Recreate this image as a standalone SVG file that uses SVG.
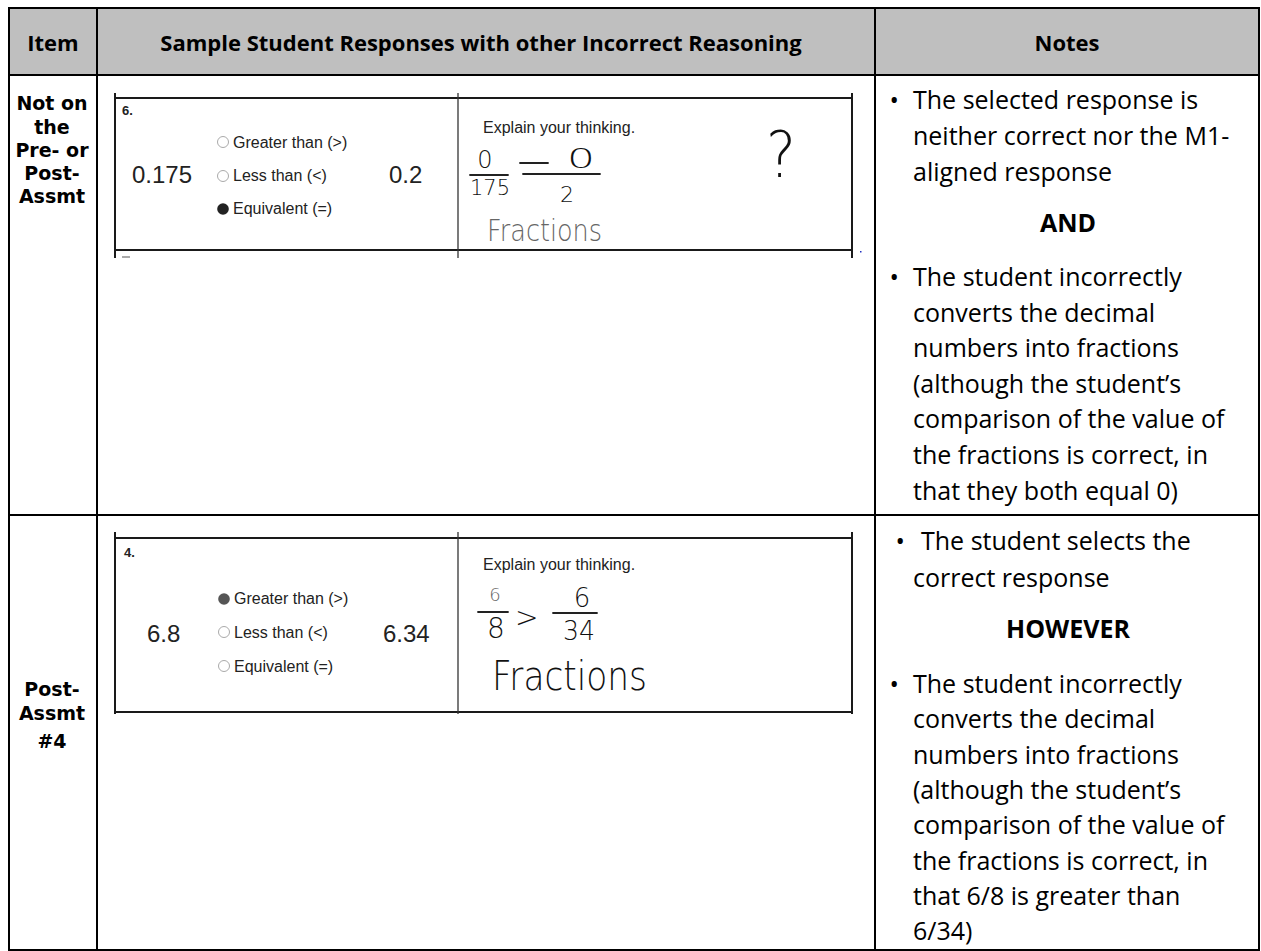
<svg xmlns="http://www.w3.org/2000/svg" width="1261" height="951" viewBox="0 0 1261 951">
<style>
.grid{stroke:#000;stroke-width:2;fill:none}
.hd{font-family:"Open Sans","Liberation Sans",sans-serif;font-weight:bold;font-size:22px;fill:#000;text-anchor:middle}
.it{font-family:"DejaVu Sans","Liberation Sans",sans-serif;font-weight:bold;font-size:19px;fill:#000;text-anchor:middle}
.nt{font-family:"Open Sans","Liberation Sans",sans-serif;font-size:25px;fill:#000}
.ntb{font-family:"Open Sans","Liberation Sans",sans-serif;font-size:25px;font-weight:bold;fill:#000;text-anchor:middle}
.scan{stroke:#1a1a1a;stroke-width:2;fill:none}
.scanthin{stroke:#333;stroke-width:1.3;fill:none}
.opt{font-family:"Liberation Sans",Arial,sans-serif;font-size:16px;fill:#222}
.num{font-family:"Liberation Sans",Arial,sans-serif;font-size:24px;fill:#222}
.qn{font-family:"Liberation Sans",Arial,sans-serif;font-size:13px;font-weight:bold;fill:#222}
.radio{fill:#fff;stroke:#aaa;stroke-width:1}
.hand{font-family:"DejaVu Sans",sans-serif;font-weight:200;fill:#111}
.handl{font-family:"DejaVu Sans",sans-serif;font-weight:200;fill:#666}
.stroke{stroke:#222;stroke-width:1.8;fill:none;stroke-linecap:round}
</style>

<g id="table">
  <rect x="9" y="8" width="1250" height="67" fill="#bfbfbf"/>
  <rect x="9" y="8" width="1250" height="942" class="grid"/>
  <line x1="9" y1="75" x2="1259" y2="75" class="grid"/>
  <line x1="9" y1="515" x2="1259" y2="515" class="grid"/>
  <line x1="97" y1="8" x2="97" y2="950" class="grid"/>
  <line x1="875" y1="8" x2="875" y2="950" class="grid"/>
</g>

<g id="header">
  <text class="hd" x="53" y="51">Item</text>
  <text class="hd" x="481" y="51">Sample Student Responses with other Incorrect Reasoning</text>
  <text class="hd" x="1067" y="51">Notes</text>
</g>

<g id="item-row1">
  <text class="it" x="52" y="110">Not on</text>
  <text class="it" x="52" y="134">the</text>
  <text class="it" x="52" y="157">Pre- or</text>
  <text class="it" x="52" y="180">Post-</text>
  <text class="it" x="52" y="203">Assmt</text>
</g>

<g id="scan-row1">
  <line x1="115" y1="93" x2="115" y2="258" class="scan"/>
  <line x1="852" y1="93" x2="852" y2="258" class="scan"/>
  <line x1="115" y1="98" x2="852" y2="98" class="scan"/>
  <line x1="115" y1="250" x2="852" y2="250" class="scan"/>
  <line x1="458" y1="93" x2="458" y2="258" class="scanthin"/>
  <line x1="122" y1="257" x2="130" y2="257" stroke="#555" stroke-width="1"/>
  <rect x="860" y="251" width="1.5" height="1.5" fill="#2030c0"/>
  <text class="qn" x="122" y="115">6.</text>
  <circle class="radio" cx="223" cy="142" r="5.5"/>
  <circle class="radio" cx="223" cy="176" r="5.5"/>
  <circle cx="223" cy="209" r="5.8" fill="#222"/>
  <text class="opt" x="233" y="148">Greater than (&gt;)</text>
  <text class="opt" x="233" y="181">Less than (&lt;)</text>
  <text class="opt" x="233" y="214">Equivalent (=)</text>
  <text class="num" x="132" y="183">0.175</text>
  <text class="num" x="389" y="183">0.2</text>
  <text class="opt" x="483" y="133">Explain your thinking.</text>
  <text class="hand" x="485" y="168" font-size="24" text-anchor="middle">0</text>
  <line x1="470" y1="175" x2="508" y2="175" class="stroke"/>
  <text class="hand" x="470" y="195" font-size="22" textLength="40" lengthAdjust="spacingAndGlyphs">175</text>
  <line x1="520" y1="163" x2="548" y2="163" class="stroke"/>
  <line x1="523" y1="174" x2="600" y2="174" class="stroke"/>
  <text class="hand" x="567" y="168" font-size="27" textLength="28" lengthAdjust="spacingAndGlyphs">0</text>
  <text class="hand" x="560" y="202" font-size="22">2</text>
  <text class="handl" x="487" y="241" font-size="30" textLength="115" lengthAdjust="spacingAndGlyphs">Fractions</text>
  <text class="hand" x="766" y="177" font-size="64" font-weight="300" textLength="30" lengthAdjust="spacingAndGlyphs">?</text>
</g>

<g id="notes-row1">
  <text class="nt"><tspan x="889.5" y="109">•</tspan><tspan x="913" y="109">The selected response is</tspan></text>
  <text class="nt" x="913" y="145">neither correct nor the M1-</text>
  <text class="nt" x="913" y="181">aligned response</text>
  <text class="ntb" x="1068" y="232">AND</text>
  <text class="nt"><tspan x="889.5" y="286">•</tspan><tspan x="913" y="286">The student incorrectly</tspan></text>
  <text class="nt" x="913" y="321.6">converts the decimal</text>
  <text class="nt" x="913" y="357.2">numbers into fractions</text>
  <text class="nt" x="913" y="392.8">(although the student’s</text>
  <text class="nt" x="913" y="428.4">comparison of the value of</text>
  <text class="nt" x="913" y="464">the fractions is correct, in</text>
  <text class="nt" x="913" y="500">that they both equal 0)</text>
</g>

<g id="item-row2">
  <text class="it" x="52" y="696">Post-</text>
  <text class="it" x="52" y="720">Assmt</text>
  <text class="it" x="52" y="748">#4</text>
</g>

<g id="scan-row2">
  <line x1="115" y1="532" x2="115" y2="714" class="scan"/>
  <line x1="852" y1="532" x2="852" y2="714" class="scan"/>
  <line x1="115" y1="538" x2="852" y2="538" class="scan"/>
  <line x1="115" y1="712" x2="852" y2="712" class="scan"/>
  <line x1="458" y1="532" x2="458" y2="714" class="scanthin"/>
  <text class="qn" x="124" y="557">4.</text>
  <circle cx="224" cy="599" r="5.8" fill="#555"/>
  <circle class="radio" cx="224" cy="632" r="5.5"/>
  <circle class="radio" cx="224" cy="666" r="5.5"/>
  <text class="opt" x="234" y="604">Greater than (&gt;)</text>
  <text class="opt" x="234" y="638">Less than (&lt;)</text>
  <text class="opt" x="234" y="672">Equivalent (=)</text>
  <text class="num" x="147" y="642">6.8</text>
  <text class="num" x="383" y="642">6.34</text>
  <text class="opt" x="483" y="570">Explain your thinking.</text>
  <text class="handl" x="495" y="601" font-size="18" text-anchor="middle">6</text>
  <line x1="478" y1="612" x2="508" y2="612" class="stroke"/>
  <text class="hand" x="496" y="638" font-size="28" text-anchor="middle">8</text>
  <text class="hand" x="515" y="627" font-size="28">&gt;</text>
  <text class="hand" x="582" y="607" font-size="26" text-anchor="middle">6</text>
  <line x1="553" y1="613" x2="597" y2="613" class="stroke"/>
  <text class="hand" x="563" y="640" font-size="26" textLength="32" lengthAdjust="spacingAndGlyphs">34</text>
  <text class="hand" x="492" y="690" font-size="40" textLength="155" lengthAdjust="spacingAndGlyphs">Fractions</text>
</g>

<g id="notes-row2">
  <text class="nt"><tspan x="895.5" y="550">•</tspan><tspan x="921" y="550">The student selects the</tspan></text>
  <text class="nt" x="913" y="587">correct response</text>
  <text class="ntb" x="1068" y="638">HOWEVER</text>
  <text class="nt"><tspan x="889.5" y="693">•</tspan><tspan x="913" y="693">The student incorrectly</tspan></text>
  <text class="nt" x="913" y="728.3">converts the decimal</text>
  <text class="nt" x="913" y="763.6">numbers into fractions</text>
  <text class="nt" x="913" y="798.9">(although the student’s</text>
  <text class="nt" x="913" y="834.2">comparison of the value of</text>
  <text class="nt" x="913" y="869.5">the fractions is correct, in</text>
  <text class="nt" x="913" y="904.8">that 6/8 is greater than</text>
  <text class="nt" x="913" y="940">6/34)</text>
</g>

<g id="connectors"></g>
</svg>
